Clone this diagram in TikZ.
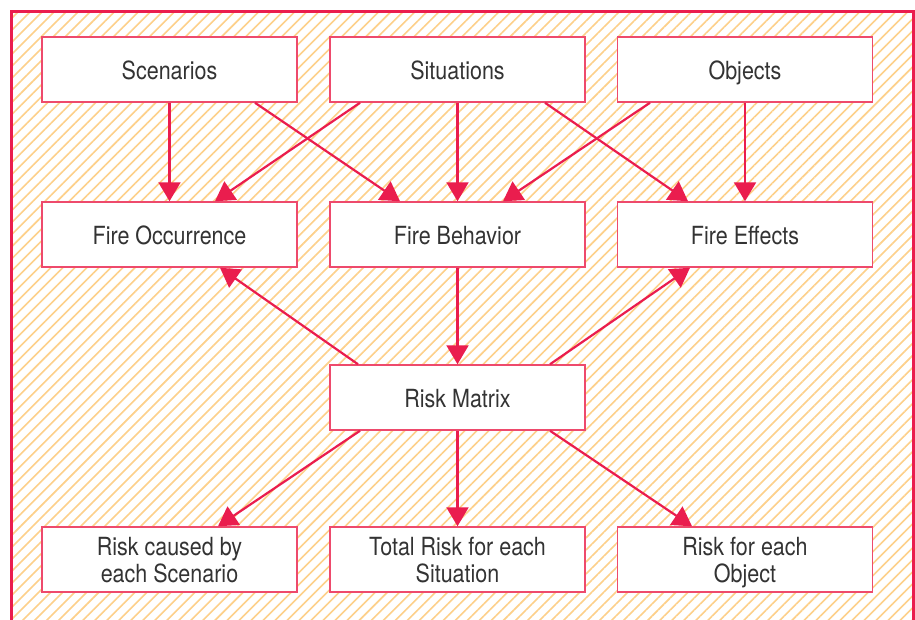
\documentclass[tikz,border=0pt]{standalone}
\usepackage{fontspec}
\setsansfont[FakeStretch=0.86]{TeX Gyre Heros}
\usetikzlibrary{arrows.meta,patterns.meta}
\definecolor{riskred}{HTML}{EA1D4E}
\definecolor{boxred}{HTML}{EE4A6C}
\definecolor{hatch}{HTML}{FDD08A}
\definecolor{txt}{HTML}{333333}

\begin{document}
\begin{tikzpicture}[x=1pt, y=-1pt, font=\sffamily\fontsize{25}{27}\selectfont,
    box/.style={draw=boxred, fill=white, line width=1.5pt, minimum width=255pt,
      minimum height=65pt, inner sep=0pt, align=center, text=txt, text depth=0pt},
    one/.style={box, text height=20pt},
    flow/.style={riskred, line width=2.2pt, -{Triangle[width=22pt,length=19pt]}}]
        \useasboundingbox (0,0) rectangle (915,619);
        \fill[white] (0,0) rectangle (915,619);
        \fill[pattern={Lines[angle=45,distance=8.5pt,line width=1.6pt]}, pattern color=hatch]
          (11,11) rectangle (913,619);
        \draw[riskred, line width=3pt] (11,630) -- (11,11) -- (913,11) -- (913,630);
        % top row
        \node[one] (scen) at (169.5,69.5) {Scenarios};
        \node[one] (situ) at (457.5,69.5) {Situations};
        \node[one] (obj)  at (745,69.5)   {Objects};
        % fire model
        \node[one] (focc) at (169.5,234.5) {Fire Occurrence};
        \node[one] (fbeh) at (457.5,234.5) {Fire Behavior};
        \node[one] (feff) at (745,234.5)   {Fire Effects};
        \node[one] (matrix) at (457.5,397.5) {Risk Matrix};
        % results
        \node[box] (rscen) at (169.5,559.5) {Risk caused by\\each Scenario};
        \node[box] (rsitu) at (457.5,559.5) {Total Risk for each\\Situation};
        \node[box] (robj)  at (745,559.5)   {Risk for each\\Object};
        \foreach \a/\b in {scen/focc, situ/fbeh, obj/feff, fbeh/matrix, matrix/rsitu} {
          \draw[flow] (\a.south) -- (\b.north);
        }
        \draw[flow] ([xshift=85.5pt]scen.south) -- ([xshift=-57.5pt]fbeh.north);
        \draw[flow] ([xshift=-97.5pt]situ.south) -- ([xshift=45.5pt]focc.north);
        \draw[flow] ([xshift=87.5pt]situ.south) -- ([xshift=-57pt]feff.north);
        \draw[flow] ([xshift=-95pt]obj.south) -- ([xshift=45.5pt]fbeh.north);
        \draw[flow] ([xshift=-99.5pt]matrix.north) -- ([xshift=50.5pt]focc.south);
        \draw[flow] ([xshift=92.5pt]matrix.north) -- ([xshift=-55pt]feff.south);
        \draw[flow] ([xshift=-97.5pt]matrix.south) -- ([xshift=48.5pt]rscen.north);
        \draw[flow] ([xshift=92.5pt]matrix.south) -- ([xshift=-53pt]robj.north);
      \end{tikzpicture}
\end{document}
